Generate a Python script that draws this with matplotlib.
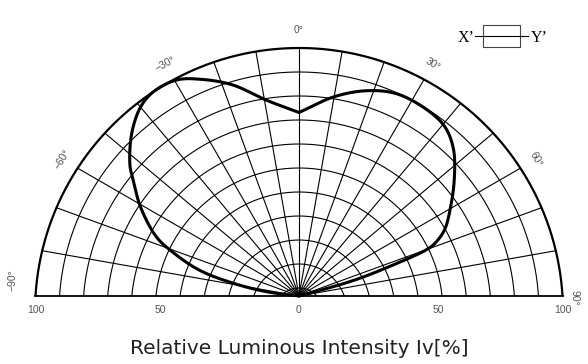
import numpy as np
import matplotlib
matplotlib.use("Agg")
import matplotlib.pyplot as plt

# radiation pattern, angle in degrees (0 = axis), relative intensity in %
angles = [-88, -82.5, -79, -75.5, -71, -67.5, -60.5, -55, -52.5, -46, -40, -35.5,
          -29.5, -24.5, -17.5, -9.5, 0, 10, 18.5, 26, 35, 41, 46.5, 53, 59.5,
          65.5, 68.8, 70, 72, 74, 75, 76]
intensity = [0, 9, 22.5, 37, 49.5, 58.5, 70.5, 79, 83.5, 92, 98, 100,
             99.3, 95.5, 89, 80, 74, 81.5, 87, 90, 90, 88.5, 84, 76, 68,
             61, 55, 51, 34, 19.5, 6, 0]

angle_ticks = [-90, -60, -30, 0, 30, 60, 90]
scale_ticks = [100, 50, 0, 50, 100]
scale_side = [-1, -1, 0, 1, 1]

OUTER = 264.0   # pixel radius of the 100 % circle
DROP = 16.0     # grid circles are centred this far below the base line
N_RINGS = 11


def to_xy(theta, v):
    # point on the spoke `theta` that lies on the ring for value v
    th = np.radians(theta)
    R = DROP + (OUTER - DROP) * np.asarray(v) / 100.0
    t = -DROP * np.cos(th) + np.sqrt(np.maximum(R**2 - (DROP * np.sin(th))**2, 0))
    return t * np.sin(th), t * np.cos(th)


def smooth(x, y, n=24):
    # centripetal catmull-rom through the points
    pts = np.column_stack([x, y])
    pts = np.vstack([2 * pts[0] - pts[1], pts, 2 * pts[-1] - pts[-2]])
    out = []
    for i in range(1, len(pts) - 2):
        p0, p1, p2, p3 = pts[i - 1], pts[i], pts[i + 1], pts[i + 2]
        t0 = 0.0
        t1 = t0 + np.linalg.norm(p1 - p0) ** 0.5 + 1e-9
        t2 = t1 + np.linalg.norm(p2 - p1) ** 0.5 + 1e-9
        t3 = t2 + np.linalg.norm(p3 - p2) ** 0.5 + 1e-9
        t = np.linspace(t1, t2, n, endpoint=False)[:, None]
        a1 = (t1 - t) / (t1 - t0) * p0 + (t - t0) / (t1 - t0) * p1
        a2 = (t2 - t) / (t2 - t1) * p1 + (t - t1) / (t2 - t1) * p2
        a3 = (t3 - t) / (t3 - t2) * p2 + (t - t2) / (t3 - t2) * p3
        b1 = (t2 - t) / (t2 - t0) * a1 + (t - t0) / (t2 - t0) * a2
        b2 = (t3 - t) / (t3 - t1) * a2 + (t - t1) / (t3 - t1) * a3
        out.append((t2 - t) / (t2 - t1) * b1 + (t - t1) / (t2 - t1) * b2)
    out.append(pts[-2][None, :])
    out = np.vstack(out)
    return out[:, 0], out[:, 1]


fig = plt.figure(figsize=(5.88, 3.64), dpi=100)
ax = fig.add_axes([0, 0, 1, 1])
ax.set_xlim(-299, 289)
ax.set_ylim(-68, 296)
ax.axis("off")

# rings
for k in range(1, N_RINGS + 1):
    R = OUTER * k / N_RINGS
    phi = np.linspace(-np.arccos(DROP / R), np.arccos(DROP / R), 300)
    lw = 1.6 if k == N_RINGS else 0.8
    ax.plot(R * np.sin(phi), -DROP + R * np.cos(phi), color="black", lw=lw,
            solid_capstyle="butt")

# spokes
for a in range(-80, 81, 10):
    x1, y1 = to_xy(a, 100)
    ax.plot([0, x1], [0, y1], color="black", lw=0.8)
xb, _ = to_xy(90, 100)
ax.plot([-xb, xb], [0, 0], color="black", lw=1.3)

# curve, drawn in two halves so the dip on the axis stays sharp
cx, cy = to_xy(np.array(angles), np.array(intensity))
mid = angles.index(0)
for sl in (slice(0, mid + 1), slice(mid, None)):
    sx, sy = smooth(cx[sl], cy[sl])
    ax.plot(sx, sy, color="black", lw=2.2, solid_joinstyle="round",
            solid_capstyle="round")

# angle labels
for a in angle_ticks:
    if abs(a) == 90:
        x = -286 if a < 0 else 276
        y = 16 if a < 0 else -2
    else:
        xo, yo = to_xy(a, 100)
        d = np.hypot(xo, yo) + 18
        x, y = d * np.sin(np.radians(a)), d * np.cos(np.radians(a))
    ax.text(x, y, f"{a}°".replace("-", "\u2212"), rotation=-a, ha="center", va="center",
            fontsize=7.5, color="#555555", family="Liberation Sans",
            rotation_mode="anchor")

# scale labels under the base line
for val, side in zip(scale_ticks, scale_side):
    xv, _ = to_xy(90, val)
    ax.text(side * xv, -14, str(val), ha="center", va="center", fontsize=7.5,
            color="#555555", family="Liberation Sans")

ax.text(0, -53, "Relative Luminous Intensity Iv[%]", ha="center", va="center",
        fontsize=14.5, color="#222222", family="DejaVu Sans")

# X'-Y' orientation sketch
ax.plot([176, 229], [260, 260], color="black", lw=0.8)
ax.add_patch(plt.Rectangle((184, 249), 36.5, 22, fill=False, ec="#444444", lw=0.8))
ax.text(167, 258, "X’", ha="center", va="center", fontsize=11.5, family="Liberation Serif")
ax.text(240, 258, "Y’", ha="center", va="center", fontsize=11.5, family="Liberation Serif")

fig.savefig("out.png", dpi=100)
